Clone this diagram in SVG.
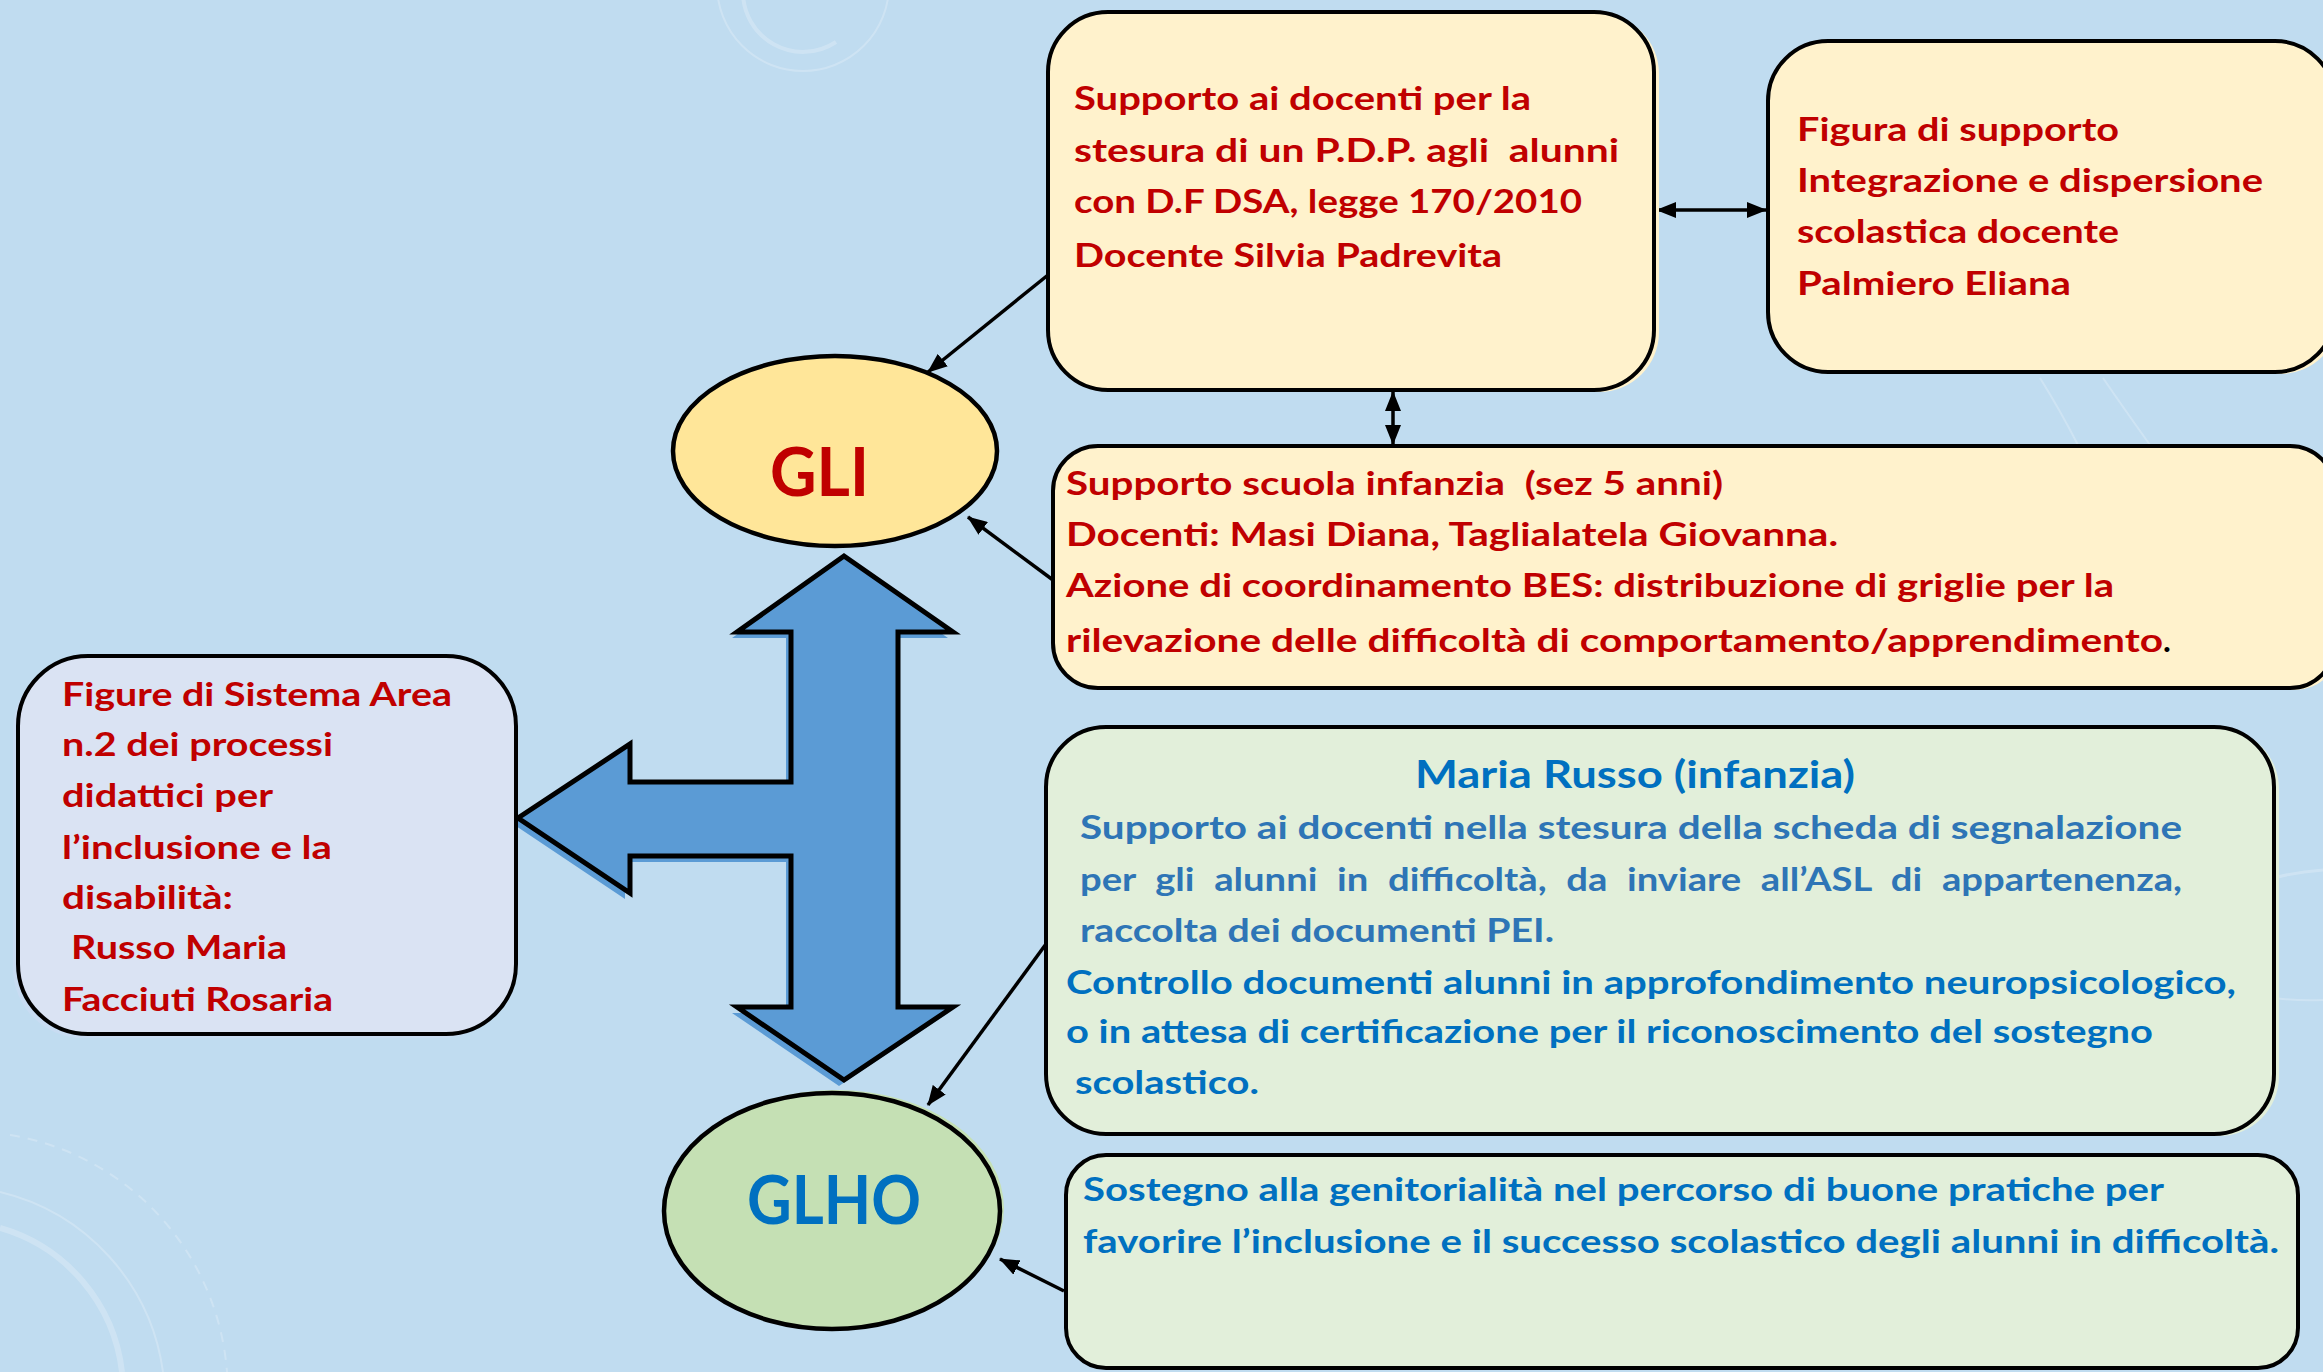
<svg xmlns="http://www.w3.org/2000/svg" width="2323" height="1372" viewBox="0 0 2323 1372">
<defs>
<style>
.t{font-family:Lato,"Open Sans","Liberation Sans",sans-serif;font-weight:bold;font-size:33px;white-space:pre}
.red{fill:#C00000}
.blue{fill:#0070C0}
.lblue{fill:#2E75B6}
.box{stroke:#000;stroke-width:4}
.cream{fill:#FFF2CC}
.green{fill:#E2EFDA}
.lav{fill:#DAE3F3}
.con{stroke:#000;stroke-width:3.5;fill:none}
.deco{fill:none;stroke:#FFFFFF;stroke-opacity:0.22}
</style>
<marker id="ah" viewBox="0 0 20 16" refX="19" refY="8" markerWidth="20" markerHeight="16" markerUnits="userSpaceOnUse" orient="auto-start-reverse">
<path d="M0,0 L20,8 L0,16 z" fill="#000"/>
</marker>
</defs>
<rect width="2323" height="1372" fill="#C0DCF0"/>
<g id="decor">
<circle class="deco" cx="803" cy="-15" r="86" stroke-width="2"/>
<path class="deco" d="M743,-10 A60,60 0 0 0 836,42" stroke-width="4"/>
<path class="deco" d="M0,1192 A215,215 0 0 1 163,1372" stroke-width="2"/>
<path class="deco" d="M0,1228 A170,170 0 0 1 122,1372" stroke-width="6"/>
<path class="deco" d="M10,1135 A260,260 0 0 1 227,1372" stroke-width="2" stroke-dasharray="10 8"/>
<path class="deco" d="M2323,870 A300,300 0 0 0 2130,960" stroke-width="3"/>
<path class="deco" d="M2323,1000 A300,300 0 0 1 2130,940" stroke-width="2"/>
<path class="deco" d="M2040,378 Q2060,410 2078,445" stroke-width="2"/>
<path class="deco" d="M2103,378 Q2125,410 2150,445" stroke-width="2"/>
</g>
<g id="connectors">
<line class="con" x1="1048" y1="275" x2="928" y2="372" marker-end="url(#ah)"/>
<line class="con" x1="1053" y1="580" x2="968" y2="517" marker-end="url(#ah)"/>
<line class="con" x1="1046" y1="944" x2="928" y2="1105" marker-end="url(#ah)"/>
<line class="con" x1="1064" y1="1291" x2="1000" y2="1259" marker-end="url(#ah)"/>
<line class="con" x1="1657" y1="210" x2="1766" y2="210" marker-start="url(#ah)" marker-end="url(#ah)"/>
<line class="con" x1="1393" y1="392" x2="1393" y2="444" marker-start="url(#ah)" marker-end="url(#ah)"/>
</g>
<g id="bigarrow">
<polygon transform="translate(-5,6)" fill="#5B9BD5" points="844,556 953,632 898,632 898,1007 953,1007 844,1080 737,1007 791,1007 791,856 630,856 630,893 518,818 630,744 630,782 791,782 791,632 737,632"/>
<polygon fill="#5B9BD5" stroke="#000" stroke-width="5" stroke-linejoin="miter" points="844,556 953,632 898,632 898,1007 953,1007 844,1080 737,1007 791,1007 791,856 630,856 630,893 518,818 630,744 630,782 791,782 791,632 737,632"/>
</g>
<g id="gli">
<ellipse cx="835" cy="451" rx="162" ry="95" fill="#FFE699" stroke="#000" stroke-width="4.5"/>
<text class="t red" x="770" y="496" textLength="99" lengthAdjust="spacingAndGlyphs" style="font-size:66px">GLI</text>
</g>
<g id="glho">
<ellipse cx="836" cy="1208" rx="168" ry="118" fill="#C5E0B4"/>
<ellipse cx="832" cy="1211" rx="168" ry="118" fill="#C5E0B4" stroke="#000" stroke-width="4.5"/>
<text class="t blue" x="747" y="1224" textLength="174" lengthAdjust="spacingAndGlyphs" style="font-size:66px">GLHO</text>
</g>
<g id="box-pdp">
<rect x="1053" y="14" width="606" height="378" rx="60" class="cream"/>
<rect x="1048" y="12" width="606" height="378" rx="60" class="box cream"/>
<text class="t red" x="1074" y="110" textLength="457" lengthAdjust="spacingAndGlyphs">Supporto ai docenti per la</text>
<text class="t red" x="1074" y="162" textLength="545" lengthAdjust="spacingAndGlyphs">stesura di un P.D.P. agli  alunni</text>
<text class="t red" x="1074" y="213" textLength="508" lengthAdjust="spacingAndGlyphs">con D.F DSA, legge 170/2010</text>
<text class="t red" x="1074" y="267" textLength="428" lengthAdjust="spacingAndGlyphs">Docente Silvia Padrevita</text>
</g>
<g id="box-figura">
<rect x="1773" y="43" width="567" height="331" rx="60" class="cream"/>
<rect x="1768" y="41" width="567" height="331" rx="60" class="box cream"/>
<text class="t red" x="1797" y="141" textLength="322" lengthAdjust="spacingAndGlyphs">Figura di supporto</text>
<text class="t red" x="1797" y="192" textLength="466" lengthAdjust="spacingAndGlyphs">Integrazione e dispersione</text>
<text class="t red" x="1797" y="243" textLength="322" lengthAdjust="spacingAndGlyphs">scolastica docente</text>
<text class="t red" x="1797" y="295" textLength="274" lengthAdjust="spacingAndGlyphs">Palmiero Eliana</text>
</g>
<g id="box-infanzia">
<rect x="1058" y="448" width="1282" height="242" rx="45" class="cream"/>
<rect x="1053" y="446" width="1282" height="242" rx="45" class="box cream"/>
<text class="t red" x="1066" y="495" textLength="657" lengthAdjust="spacingAndGlyphs">Supporto scuola infanzia  (sez 5 anni)</text>
<text class="t red" x="1066" y="546" textLength="772" lengthAdjust="spacingAndGlyphs">Docenti: Masi Diana, Taglialatela Giovanna.</text>
<text class="t red" x="1066" y="597" textLength="1048" lengthAdjust="spacingAndGlyphs">Azione di coordinamento BES: distribuzione di griglie per la</text>
<text class="t red" x="1066" y="652" textLength="1097" lengthAdjust="spacingAndGlyphs">rilevazione delle difficoltà di comportamento/apprendimento</text>
<text class="t" x="2163" y="652" fill="#000">.</text>
</g>
<g id="box-sistema">
<rect x="13" y="660" width="498" height="378" rx="70" fill="#C8DCF2"/>
<rect x="18" y="656" width="498" height="378" rx="70" class="box lav"/>
<text class="t red" x="62" y="706" textLength="390" lengthAdjust="spacingAndGlyphs">Figure di Sistema Area</text>
<text class="t red" x="62" y="756" textLength="271" lengthAdjust="spacingAndGlyphs">n.2 dei processi</text>
<text class="t red" x="62" y="807" textLength="211" lengthAdjust="spacingAndGlyphs">didattici per</text>
<text class="t red" x="62" y="859" textLength="270" lengthAdjust="spacingAndGlyphs">l’inclusione e la</text>
<text class="t red" x="62" y="909" textLength="171" lengthAdjust="spacingAndGlyphs">disabilità:</text>
<text class="t red" x="71" y="959" textLength="216" lengthAdjust="spacingAndGlyphs">Russo Maria</text>
<text class="t red" x="62" y="1011" textLength="271" lengthAdjust="spacingAndGlyphs">Facciuti Rosaria</text>
</g>
<g id="box-russo">
<rect x="1051" y="729" width="1228" height="407" rx="60" class="green"/>
<rect x="1046" y="727" width="1228" height="407" rx="60" class="box green"/>
<text class="t blue" x="1415" y="788" textLength="440" lengthAdjust="spacingAndGlyphs" style="font-size:38px">Maria Russo (infanzia)</text>
<text class="t lblue" x="1080" y="839" textLength="1102" lengthAdjust="spacingAndGlyphs">Supporto ai docenti nella stesura della scheda di segnalazione</text>
<text class="t lblue" x="1080" y="891" textLength="1102" lengthAdjust="spacingAndGlyphs" style="word-spacing:9px">per gli alunni in difficoltà, da inviare all’ASL di appartenenza,</text>
<text class="t lblue" x="1080" y="942" textLength="474" lengthAdjust="spacingAndGlyphs">raccolta dei documenti PEI.</text>
<text class="t blue" x="1066" y="994" textLength="1170" lengthAdjust="spacingAndGlyphs">Controllo documenti alunni in approfondimento neuropsicologico,</text>
<text class="t blue" x="1066" y="1043" textLength="1087" lengthAdjust="spacingAndGlyphs">o in attesa di certificazione per il riconoscimento del sostegno</text>
<text class="t blue" x="1075" y="1094" textLength="184" lengthAdjust="spacingAndGlyphs">scolastico.</text>
</g>
<g id="box-genitorialita">
<rect x="1066" y="1155" width="1232" height="213" rx="40" class="box green"/>
<text class="t blue" x="1083" y="1201" textLength="1081" lengthAdjust="spacingAndGlyphs">Sostegno alla genitorialità nel percorso di buone pratiche per</text>
<text class="t blue" x="1083" y="1253" textLength="1196" lengthAdjust="spacingAndGlyphs">favorire l’inclusione e il successo scolastico degli alunni in difficoltà.</text>
</g>
</svg>
